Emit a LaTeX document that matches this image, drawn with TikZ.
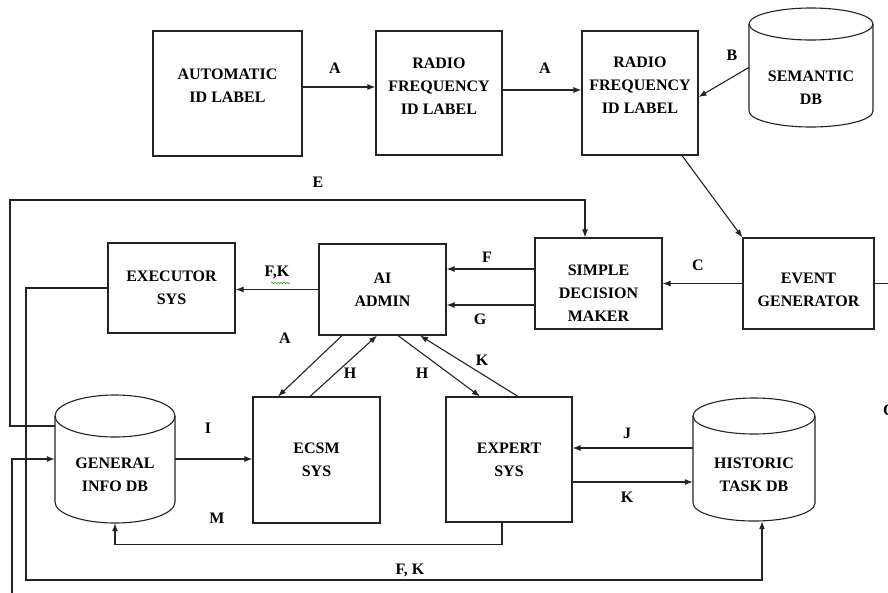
\documentclass[tikz,border=0pt]{standalone}
\usepackage{fontspec}
\setmainfont{Liberation Serif}
\usetikzlibrary{arrows.meta,decorations.pathmorphing}
\definecolor{InkGrey}{RGB}{35,35,35}
\definecolor{SpellGreen}{RGB}{70,150,60}
% name, centre x, top, bottom, half width, cap radius, text y, text
\newcommand{\dbcylinder}[8]{%
  \draw[line width=1.1pt,InkGrey] (#2-#5,#3+#6)--(#2-#5,#4-#6)
    arc[start angle=180,end angle=360,x radius=#5pt,y radius=#6pt]--(#2+#5,#3+#6);
  \draw[line width=1.1pt,InkGrey] (#2,#3+#6) ellipse [x radius=#5pt,y radius=#6pt];
  \node[minimum width=2*#5pt,minimum height=#4-#3,inner sep=0pt] (#1) at (#2,{(#3+#4)/2}) {};
  \node[lbl] (#1-txt) at (#2,#7) {#8};}

\begin{document}
\begin{tikzpicture}[x=1pt,y=-1pt,
    box/.style={draw=InkGrey,line width=1.1pt,align=center,inner sep=0pt,
      font={\bfseries\fontsize{16}{23}\selectfont}},
    lbl/.style={align=center,inner sep=1pt,
      font={\bfseries\fontsize{16}{23}\selectfont}},
    arr/.style={draw=InkGrey,line width=1.1pt,-{Latex[length=8pt,width=6pt]}},
    wire/.style={draw=InkGrey,line width=1.1pt}]
  \useasboundingbox (0,0) rectangle (888,592);

  % top row
  \node[box,minimum width=149,minimum height=125,text depth=16pt] (autolbl) at (227.5,93.5) {AUTOMATIC\\ID LABEL};
  \node[box,minimum width=126,minimum height=124,text depth=13pt] (rfid1) at (439,93) {RADIO\\FREQUENCY\\ID LABEL};
  \node[box,minimum width=116,minimum height=124,text depth=16pt] (rfid2) at (640,93) {RADIO\\FREQUENCY\\ID LABEL};
  \dbcylinder{semdb}{811}{8}{127}{62}{16}{87.5}{SEMANTIC\\DB}

  % middle row
  \node[box,minimum width=131,minimum height=91,text height=47pt] (evgen) at (808.5,283.5) {EVENT\\GENERATOR};
  \node[box,minimum width=127,minimum height=91,text height=76pt] (sdm) at (598.5,283.5) {SIMPLE\\DECISION\\MAKER};
  \node[box,minimum width=127,minimum height=91] (aiadmin) at (382.5,289.5) {AI\\ADMIN};
  \node[box,minimum width=127,minimum height=90] (executor) at (171.5,288) {EXECUTOR\\SYS};

  % bottom row
  \node[box,minimum width=127,minimum height=126] (ecsm) at (316.5,460) {ECSM\\SYS};
  \node[box,minimum width=126,minimum height=125] (expert) at (509,459.5) {EXPERT\\SYS};
  \dbcylinder{gdb}{115}{395}{523}{60}{21}{475}{GENERAL\\INFO DB}
  \dbcylinder{htd}{754}{398}{521}{61}{18}{474.5}{HISTORIC\\TASK DB}

  % connectors
  \draw[arr] ([yshift=6.5pt]autolbl.east) -- ([yshift=6pt]rfid1.west);
  \draw[arr] ([yshift=3pt]rfid1.east) -- ([yshift=3pt]rfid2.west);
  \draw[arr] (semdb.west) -- ([yshift=-4pt]rfid2.east);
  \draw[arr] ([xshift=42pt]rfid2.south) -- (evgen.north west);
  \coordinate (egout) at (894,283.5);
  \draw[wire] (evgen.east) -- (egout);
  \draw[arr] (evgen.west) -- (sdm.east);
  \coordinate (fout) at ([yshift=14.5pt]sdm.west);
  \draw[arr] (fout) -- (aiadmin.east |- fout);
  \coordinate (gout) at ([yshift=-21.5pt]sdm.west);
  \draw[arr] (gout) -- (aiadmin.east |- gout);
  \draw[arr] (aiadmin.west) -- (executor.east |- aiadmin.west);
  \coordinate (eout) at ([yshift=33pt]gdb.west);
  \coordinate (etop) at (10,200);
  \draw[arr] (eout) -| (etop) -| ([xshift=-13.5pt]sdm.north);
  \coordinate (fkcorner) at (26,580);
  \draw[arr] (executor.west) -| (fkcorner) -| ([xshift=8pt]htd.south);
  \coordinate (gdbin) at (12,598);
  \draw[arr] (gdbin) |- (gdb.west);
  \draw[arr] ([xshift=-40.5pt]aiadmin.south) -- ([xshift=-38.5pt]ecsm.north);
  \draw[arr] ([xshift=-6.5pt]ecsm.north) -- ([xshift=-5.5pt]aiadmin.south);
  \draw[arr] ([xshift=15.5pt]aiadmin.south) -- ([xshift=-29pt]expert.north);
  \draw[arr] ([xshift=9pt]expert.north) -- ([xshift=37.5pt]aiadmin.south);
  \draw[arr] (gdb.east) -- (ecsm.west |- gdb.east);
  \coordinate (jout) at ([yshift=11.5pt]htd.west);
  \draw[arr] (jout) -- (expert.east |- jout);
  \coordinate (kout) at ([yshift=-22.5pt]expert.east);
  \draw[arr] (kout) -- (htd.west |- kout);
  \draw[arr] ([xshift=-7pt]expert.south) -- ++(0,22) -| (gdb.south);

  % labels
  \node[lbl] (la1) at (335,68) {A};
  \node[lbl] (la2) at (545,68) {A};
  \node[lbl] (lb) at (732,55) {B};
  \node[lbl] (le) at (318,182) {E};
  \node[lbl] (lc) at (698,265) {C};
  \node[lbl] (lf) at (487,257) {F};
  \node[lbl] (lg) at (480,319) {G};
  \node[lbl] (lfk) at (277,272) {F,K};
  \draw[SpellGreen,line width=0.6pt,decorate,
    decoration={snake,amplitude=0.8pt,segment length=3pt}] (271,283) -- (290,283);
  \node[lbl] (la3) at (285,338) {A};
  \node[lbl] (lh1) at (350,373) {H};
  \node[lbl] (lh2) at (422,373) {H};
  \node[lbl] (lk1) at (482,360) {K};
  \node[lbl] (li) at (208,428) {I};
  \node[lbl] (lm) at (217,518) {M};
  \node[lbl] (lj) at (627,433) {J};
  \node[lbl] (lk2) at (627,497) {K};
  \node[lbl] (lfk2) at (410,570) {F, K};
  \node[lbl,anchor=west] (lcut) at (882,410) {C};
\end{tikzpicture}
\end{document}
